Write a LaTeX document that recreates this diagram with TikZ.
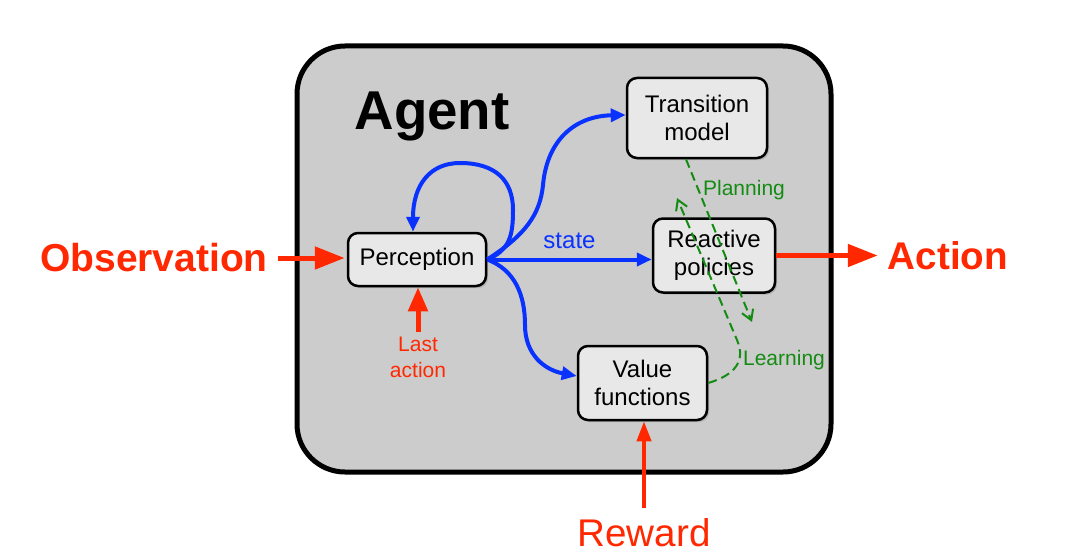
\documentclass[tikz,border=0pt]{standalone}
\usepackage{fontspec}
\setmainfont{Liberation Sans}
\usetikzlibrary{arrows.meta,shadows,calc}
\definecolor{myred}{RGB}{255,40,0}
\definecolor{myblue}{RGB}{10,50,255}
\definecolor{mygreen}{RGB}{20,140,20}
\definecolor{agentgray}{RGB}{204,204,204}
\definecolor{boxgray}{RGB}{232,232,232}
\begin{document}
\begin{tikzpicture}[x=1pt,y=-1pt,
  box/.style={draw=black, line width=2.5pt, fill=boxgray, rounded corners=10pt,
    align=center, font=\fontsize{24}{28}\selectfont, inner sep=0pt,
    drop shadow={shadow xshift=2pt,shadow yshift=-2pt,opacity=0.35}},
  bluearrow/.style={draw=myblue, line width=4pt, -{Triangle[length=15pt,width=13pt]}},
  greenarrow/.style={draw=mygreen, line width=2pt, dash pattern=on 9pt off 5pt,
    -{Straight Barb[length=10pt,width=12pt]}},
  bigred/.style={draw=myred, line width=5pt, -{Triangle[length=30pt,width=22pt]}},
  redtext/.style={text=myred, inner sep=0pt},
  greentext/.style={text=mygreen, inner sep=0pt, font=\fontsize{21}{25}\selectfont}
]
\fill[white] (0,0) rectangle (1078,559);
\useasboundingbox (0,0) rectangle (1078,559);

% agent container
\node[draw=black, line width=5pt, fill=agentgray, rounded corners=48pt,
  minimum width=534pt, minimum height=426pt, inner sep=0pt] (agent) at (564,259) {};
\node[anchor=base, inner sep=0pt, font=\fontsize{54.7}{60}\selectfont\bfseries] (agentlabel) at (432,130) {Agent};

% boxes
\node[box, minimum width=138pt, minimum height=53pt] (perc) at (417,259.5) {Perception};
\node[box, minimum width=140pt, minimum height=80pt] (tm) at (697,118) {Transition\\model};
\node[box, minimum width=122pt, minimum height=74pt] (rp) at (714,255.5) {Reactive\\policies};
\node[box, minimum width=129pt, minimum height=74pt] (vf) at (642.5,383) {Value\\functions};

% outer texts
\node[redtext, font=\fontsize{39}{44}\selectfont\bfseries] (obs) at (154,258) {Observation};
\node[redtext, font=\fontsize{38.6}{44}\selectfont\bfseries] (act) at (948,256) {Action};
\node[redtext, anchor=base, font=\fontsize{38.6}{44}\selectfont] (rw) at (644,546) {Reward};
\node[redtext, anchor=north, align=center, font=\fontsize{21}{26}\selectfont] (la) at (418,337) {Last\\action};

% red arrows
\draw[bigred, shorten <=10pt, shorten >=2pt] (obs.east) -- (obs.east -| perc.west);
\draw[bigred, shorten >=10pt] (rp.east) -- (rp.east -| act.west);
\draw[draw=myred, line width=4pt, -{Triangle[length=20pt,width=14pt]}, shorten <=10pt]
  (rw.north) -- (rw.north |- vf.south);
\draw[draw=myred, line width=5pt, -{Triangle[length=24pt,width=19pt]}, shorten <=5pt]
  (la.north) -- (la.north |- perc.south);

% blue arrows
\draw[bluearrow] (perc.east) .. controls (510,250) and (513,235) .. (513,210)
  .. controls (513,180) and (495,163) .. (460,163)
  .. controls (430,163) and (413,185) .. ([xshift=-4pt]perc.north);
\draw[bluearrow] (perc.east) .. controls (525,235) and (540,215) .. (543,185)
  .. controls (547,140) and (575,116) .. ([yshift=3pt]tm.west);
\draw[bluearrow] (perc.east) .. controls (515,270) and (525,295) .. (525,325)
  .. controls (525,355) and (545,370) .. ([yshift=7pt]vf.west);
\draw[bluearrow] (perc.east) -- node[midway, anchor=base, yshift=11pt, inner sep=0pt,
  text=myblue, font=\fontsize{24}{28}\selectfont] (st) {state} (perc.east -| rp.west);

% green dashed arrows
\coordinate (pe) at (752,322);
\coordinate (le) at (677,198);
\draw[greenarrow] ([xshift=-11pt]tm.south) -- (pe);
\draw[greenarrow] (vf.east) .. controls (735,375) and (746,361) .. (737,340) -- (le);
\node[greentext] (plan) at (744,190) {Planning};
\node[greentext] (learn) at (784,360) {Learning};
\end{tikzpicture}
\end{document}
